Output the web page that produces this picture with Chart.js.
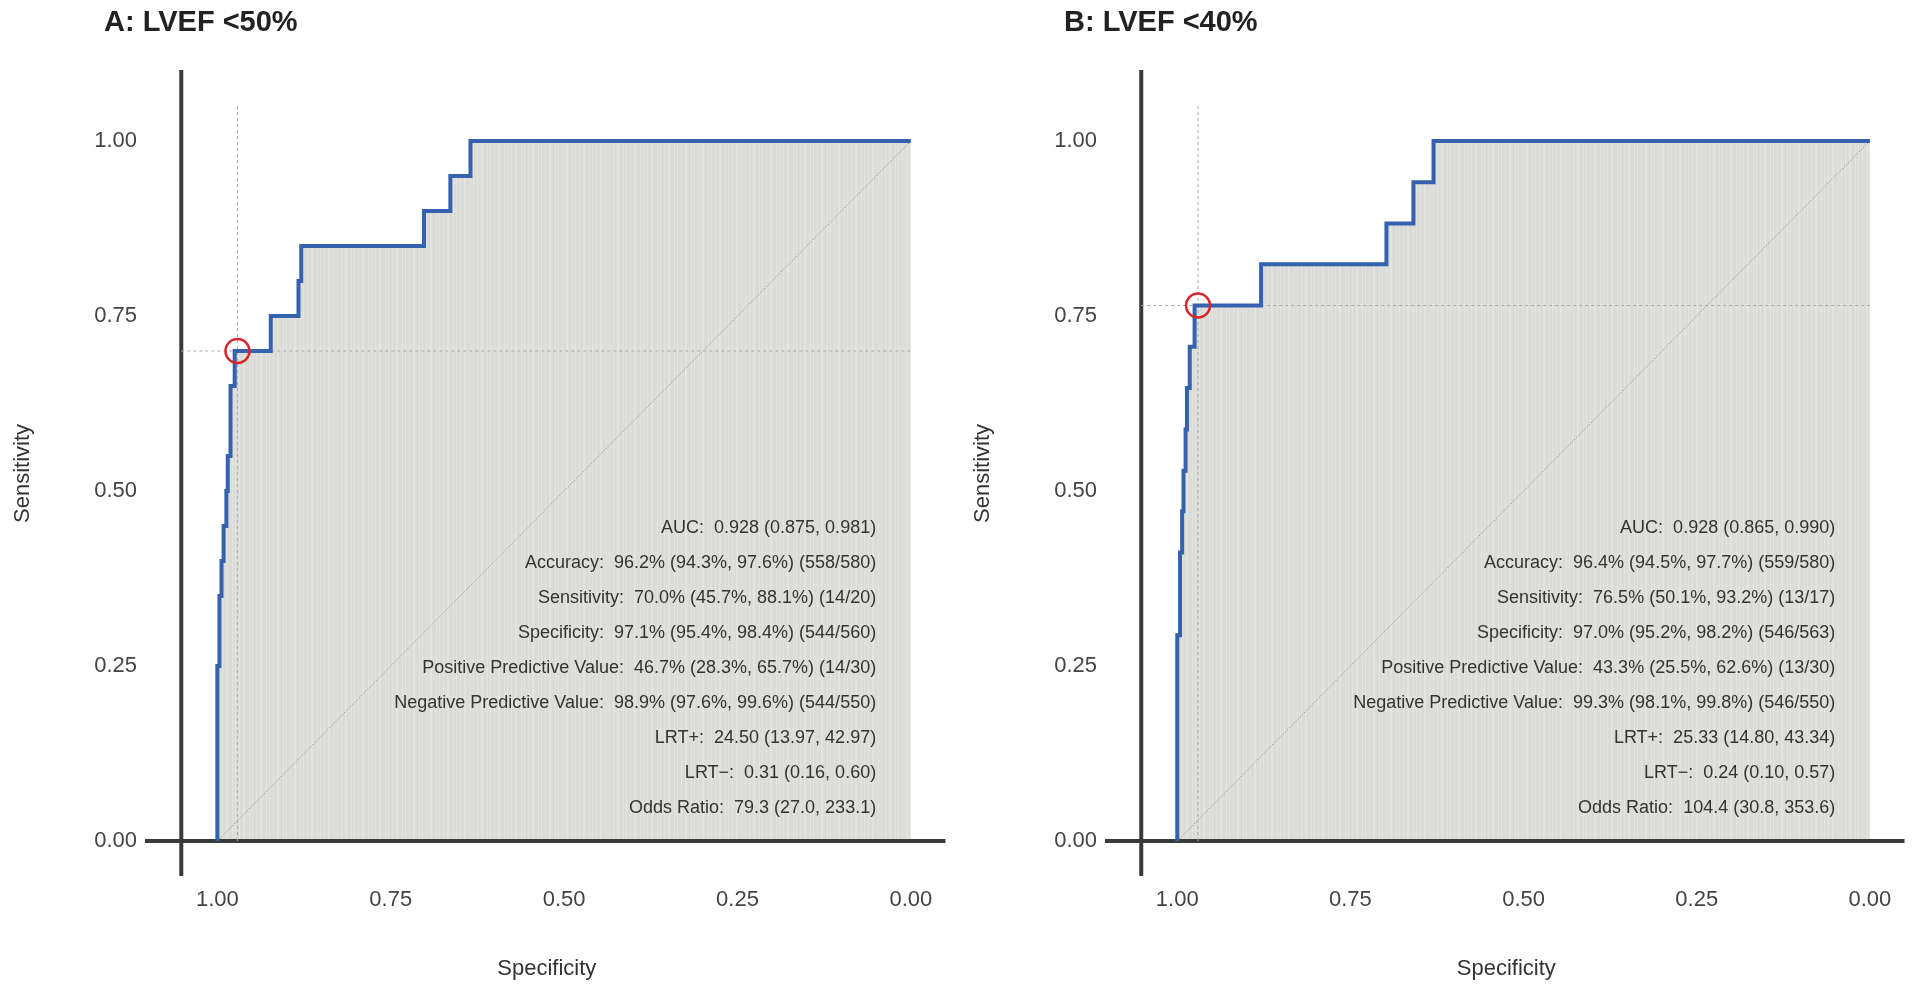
<!DOCTYPE html>
<html>
<head>
<meta charset="utf-8">
<script src="https://cdn.jsdelivr.net/npm/chart.js@4/dist/chart.umd.min.js"></script>
<style>
  body { margin: 0; background: #fff; }
  canvas { position: absolute; top: 0; }
</style>
</head>
<body>
<canvas id="rocA" width="960" height="984" style="left:0"></canvas>
<canvas id="rocB" width="959" height="984" style="left:960px"></canvas>
<script>
// ROC corner points (specificity, sensitivity)
const specA = [1, 1, 0.997, 0.997, 0.994, 0.994, 0.991, 0.991, 0.987, 0.987, 0.985, 0.985, 0.981, 0.981, 0.975, 0.975,
               0.971, 0.923, 0.923, 0.883, 0.883, 0.879, 0.879, 0.702, 0.702, 0.664, 0.664, 0.635, 0.635, 0];
const sensA = [0, 0.25, 0.25, 0.35, 0.35, 0.40, 0.40, 0.45, 0.45, 0.50, 0.50, 0.55, 0.55, 0.65, 0.65, 0.70,
               0.70, 0.70, 0.75, 0.75, 0.80, 0.80, 0.85, 0.85, 0.90, 0.90, 0.95, 0.95, 1, 1];
const specB = [1, 1, 0.996, 0.996, 0.993, 0.993, 0.991, 0.991, 0.988, 0.988, 0.986, 0.986, 0.982, 0.982, 0.975, 0.975,
               0.970, 0.879, 0.879, 0.698, 0.698, 0.659, 0.659, 0.630, 0.630, 0];
const sensB = [0, 0.294, 0.294, 0.412, 0.412, 0.471, 0.471, 0.529, 0.529, 0.588, 0.588, 0.647, 0.647, 0.706, 0.706, 0.765,
               0.765, 0.765, 0.824, 0.824, 0.882, 0.882, 0.941, 0.941, 1, 1];

// best threshold (specificity, sensitivity)
const bestA = [0.971, 0.70];
const bestB = [0.970, 0.765];

const tickValues = [0, 0.25, 0.5, 0.75, 1];

const statLabels = ['AUC', 'Accuracy', 'Sensitivity', 'Specificity', 'Positive Predictive Value',
                    'Negative Predictive Value', 'LRT+', 'LRT\u2212', 'Odds Ratio'];
const statsA = ['0.928 (0.875, 0.981)', '96.2% (94.3%, 97.6%) (558/580)', '70.0% (45.7%, 88.1%) (14/20)',
                '97.1% (95.4%, 98.4%) (544/560)', '46.7% (28.3%, 65.7%) (14/30)', '98.9% (97.6%, 99.6%) (544/550)',
                '24.50 (13.97, 42.97)', '0.31 (0.16, 0.60)', '79.3 (27.0, 233.1)'];
const statsB = ['0.928 (0.865, 0.990)', '96.4% (94.5%, 97.7%) (559/580)', '76.5% (50.1%, 93.2%) (13/17)',
                '97.0% (95.2%, 98.2%) (546/563)', '43.3% (25.5%, 62.6%) (13/30)', '99.3% (98.1%, 99.8%) (546/550)',
                '25.33 (14.80, 43.34)', '0.24 (0.10, 0.57)', '104.4 (30.8, 353.6)'];

const FONT = 'Liberation Sans, Arial, Helvetica, sans-serif';
const AXIS_AT = 1.052;

function stripes() {
  const c = document.createElement('canvas');
  c.width = 17; c.height = 4;
  const g = c.getContext('2d');
  g.fillStyle = '#dbdbd7';
  g.fillRect(0, 0, 17, 4);
  g.fillStyle = '#e3e3df';
  [1, 5, 6, 11, 14].forEach(i => g.fillRect(i, 0, 1, 4));
  return g.createPattern(c, 'repeat');
}

function decorations(title, stats) {
  return {
    id: 'decorations',
    beforeDatasetsDraw(chart) {
      const {ctx, chartArea: a, scales: {x, y}} = chart;
      ctx.save();
      ctx.strokeStyle = '#3a3a3a';
      ctx.lineWidth = 4;
      ctx.beginPath();
      const y0 = y.getPixelForValue(0);
      ctx.moveTo(a.left - 3, y0);
      ctx.lineTo(a.right, y0);
      const xa = x.getPixelForValue(AXIS_AT);
      ctx.moveTo(xa, a.top - 1);
      ctx.lineTo(xa, a.bottom);
      ctx.stroke();
      ctx.restore();
    },
    afterDatasetsDraw(chart) {
      const {ctx, scales: {x, y}} = chart;
      ctx.save();
      ctx.fillStyle = '#222';
      ctx.font = 'bold 29px ' + FONT;
      ctx.textAlign = 'left';
      ctx.textBaseline = 'alphabetic';
      ctx.fillText(title, 104, 31);

      ctx.fillStyle = '#333';
      ctx.font = '18px ' + FONT;
      ctx.textAlign = 'right';
      ctx.textBaseline = 'middle';
      stats.forEach((v, i) => {
        ctx.fillText(statLabels[i] + ':  ' + v, x.getPixelForValue(0.05), y.getPixelForValue(0.447 - i * 0.05));
      });
      ctx.restore();
    }
  };
}

function rocChart(id, title, spec, sens, best, stats) {
  const pts = spec.map((s, i) => ({x: s, y: sens[i]}));
  const axisFont = {family: FONT, size: 22};
  new Chart(document.getElementById(id), {
    type: 'scatter',
    data: {
      datasets: [
        {
          data: [{x: best[0], y: best[1]}],
          pointRadius: 12,
          pointBorderWidth: 2.5,
          pointBorderColor: '#d7262c',
          pointBackgroundColor: 'rgba(0,0,0,0)',
          order: 0
        },
        {
          data: pts,
          showLine: true,
          borderColor: '#3562ae',
          borderWidth: 4,
          pointRadius: 0,
          fill: 'origin',
          backgroundColor: stripes(),
          order: 1
        },
        {
          data: [{x: AXIS_AT, y: best[1]}, {x: 0, y: best[1]}],
          showLine: true,
          borderColor: '#aaaaaa',
          borderWidth: 1,
          borderDash: [3, 3],
          pointRadius: 0,
          order: 2
        },
        {
          data: [{x: best[0], y: 0}, {x: best[0], y: 1.05}],
          showLine: true,
          borderColor: '#aaaaaa',
          borderWidth: 1,
          borderDash: [3, 3],
          pointRadius: 0,
          order: 2
        },
        {
          data: [{x: 1, y: 0}, {x: 0, y: 1}],
          showLine: true,
          borderColor: '#8a8a8a',
          borderWidth: 0.8,
          borderDash: [1.5, 1.5],
          pointRadius: 0,
          order: 3
        }
      ]
    },
    options: {
      responsive: false,
      animation: false,
      layout: {padding: {top: 71, right: 8, bottom: 0, left: 0}},
      plugins: {
        legend: {display: false},
        tooltip: {enabled: false},
        filler: {drawTime: 'beforeDatasetsDraw'}
      },
      scales: {
        x: {
          type: 'linear',
          reverse: true,
          min: -0.05,
          max: 1.1,
          bounds: 'data',
          grid: {display: false, drawTicks: false},
          border: {display: false},
          afterBuildTicks: s => { s.ticks = tickValues.map(v => ({value: v})); },
          afterFit: s => { s.height = 108; },
          ticks: {padding: 11, color: '#444', font: axisFont, callback: v => v.toFixed(2)},
          title: {display: true, text: 'Specificity', color: '#333', font: axisFont, padding: {top: 0, bottom: 2}}
        },
        y: {
          type: 'linear',
          min: -0.05,
          max: 1.1,
          bounds: 'data',
          grid: {display: false, drawTicks: false},
          border: {display: false},
          afterBuildTicks: s => { s.ticks = tickValues.map(v => ({value: v})); },
          afterFit: s => { s.width = 148; },
          ticks: {padding: 11, color: '#444', font: axisFont, callback: v => v.toFixed(2)},
          title: {display: true, text: 'Sensitivity', color: '#333', font: axisFont, padding: {top: 10, bottom: 0}}
        }
      }
    },
    plugins: [decorations(title, stats)]
  });
}

rocChart('rocA', 'A: LVEF <50%', specA, sensA, bestA, statsA);
rocChart('rocB', 'B: LVEF <40%', specB, sensB, bestB, statsB);
</script>
</body>
</html>
